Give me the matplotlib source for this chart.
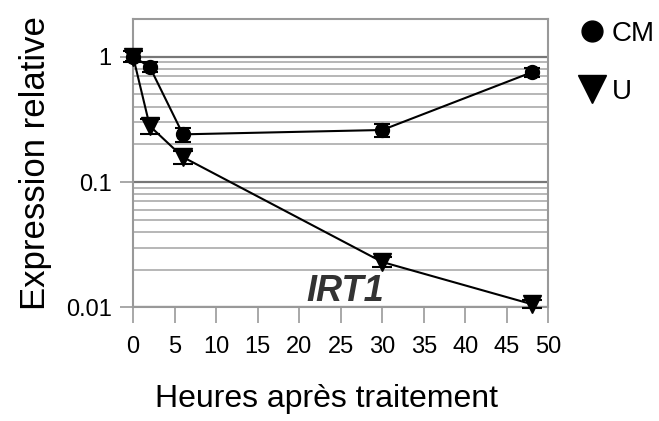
import matplotlib.pyplot as plt
from matplotlib.lines import Line2D
from matplotlib.ticker import LogLocator, NullFormatter

plt.rcParams['font.family'] = ['Liberation Sans', 'DejaVu Sans']

heures = [0, 2, 6, 30, 48]
cm = [1.0, 0.83, 0.24, 0.26, 0.75]
cm_err = [0.08, 0.08, 0.03, 0.03, 0.06]
u = [1.0, 0.28, 0.158, 0.023, 0.0106]
u_err = [0.1, 0.04, 0.02, 0.002, 0.0008]

fig = plt.figure(figsize=(6.59, 4.21), dpi=100)
ax = fig.add_axes([0.202, 0.27, 0.630, 0.685])

ax.errorbar(heures, cm, yerr=cm_err, color='black', marker='o', markersize=10,
            lw=1.5, capsize=6, elinewidth=1.5, capthick=1.5, clip_on=False, zorder=3)
ax.errorbar(heures, u, yerr=u_err, color='black', marker='v', markersize=13,
            lw=1.5, capsize=7, elinewidth=1.5, capthick=1.5, clip_on=False, zorder=3)

ax.set_yscale('log')
ax.set_ylim(0.01, 2)
ax.set_xlim(0, 50)
ax.set_xticks(range(0, 51, 5))
ax.set_yticks([0.01, 0.1, 1])
ax.set_yticklabels(['0.01', '0.1', '1'])
ax.yaxis.set_minor_locator(LogLocator(base=10, subs=range(2, 10)))
ax.yaxis.set_minor_formatter(NullFormatter())
ax.tick_params(axis='y', which='minor', length=0)
ax.tick_params(axis='x', which='major', length=11.5, width=1.2, color='#999999',
               labelsize=17, pad=9)
ax.tick_params(axis='y', which='major', length=9.5, width=1.2, color='#999999',
               labelsize=17, pad=6)
ax.grid(True, axis='y', which='major', color='#777777', lw=1.6)
ax.grid(True, axis='y', which='minor', color='#aaaaaa', lw=1.2)
ax.set_axisbelow(True)
for s in ax.spines.values():
    s.set_color('#999999')
    s.set_linewidth(1.5)

ax.text(25.5, 0.0133, 'IRT1', fontsize=26, fontweight='bold', style='italic',
        ha='center', va='center', color='#333333')

ax.set_xlabel('Heures après traitement', fontsize=23, labelpad=19)
ax.xaxis.label.set_x(0.466)
ax.set_ylabel('Expression relative', fontsize=25, labelpad=10)

handles = [Line2D([], [], color='black', marker='o', ls='', markersize=15),
           Line2D([], [], color='black', marker='v', ls='', markersize=20)]
fig.legend(handles, ['CM', 'U'], loc='upper left', bbox_to_anchor=(0.84, 1.01),
           frameon=False, fontsize=20, labelspacing=1.15, handletextpad=0.2,
           handlelength=1.0)

fig.savefig('out.png', dpi=100)
